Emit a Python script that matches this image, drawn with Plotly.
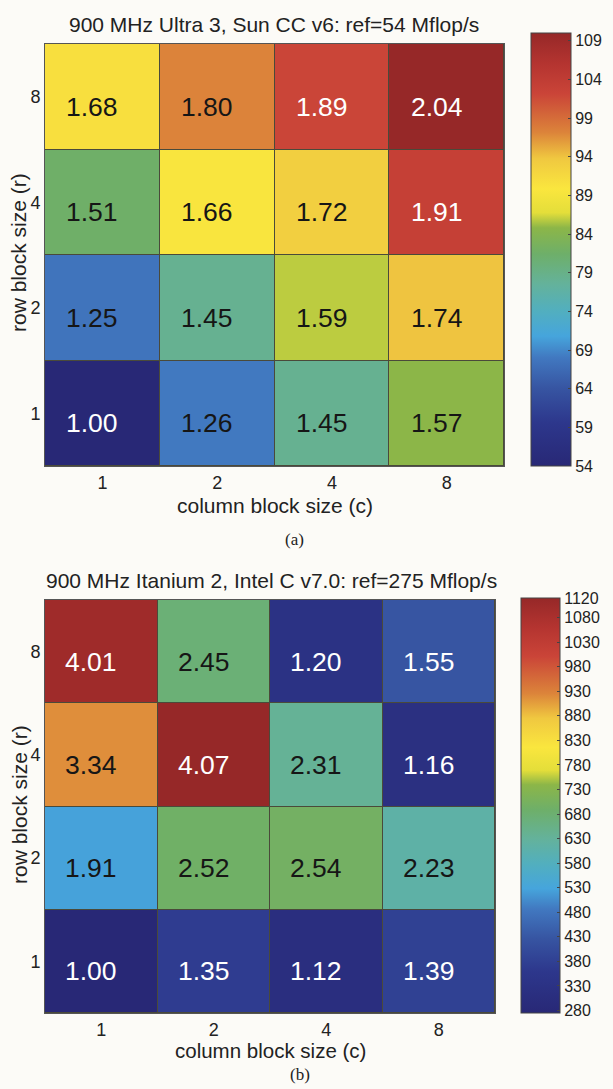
import plotly.graph_objects as go

# ---- data ----
col_labels = ["1", "2", "4", "8"]
row_labels = ["1", "2", "4", "8"]

# speedup ratios (rows: r = 1, 2, 4, 8 ; cols: c = 1, 2, 4, 8)
ultra_ratio = [
    [1.00, 1.26, 1.45, 1.57],
    [1.25, 1.45, 1.59, 1.74],
    [1.51, 1.66, 1.72, 1.91],
    [1.68, 1.80, 1.89, 2.04],
]
ultra_ref = 54
itanium_ratio = [
    [1.00, 1.35, 1.12, 1.39],
    [1.91, 2.52, 2.54, 2.23],
    [3.34, 4.07, 2.31, 1.16],
    [4.01, 2.45, 1.20, 1.55],
]
itanium_ref = 275

ultra_ticks = [54, 59, 64, 69, 74, 79, 84, 89, 94, 99, 104, 109]
itanium_ticks = [280, 330, 380, 430, 480, 530, 580, 630, 680, 730, 780, 830,
                 880, 930, 980, 1030, 1080, 1120]

title_a = "900 MHz Ultra 3, Sun CC v6: ref=54 Mflop/s"
title_b = "900 MHz Itanium 2, Intel C v7.0: ref=275 Mflop/s"

W, H = 613, 1089
FONT = "Liberation Sans, Arial, Helvetica, sans-serif"

cscale = [
    [0.00, "rgb(40,40,118)"],
    [0.10, "rgb(45,55,140)"],
    [0.18, "rgb(55,85,162)"],
    [0.25, "rgb(65,120,192)"],
    [0.30, "rgb(70,165,220)"],
    [0.36, "rgb(82,175,190)"],
    [0.42, "rgb(100,178,155)"],
    [0.49, "rgb(110,175,105)"],
    [0.55, "rgb(140,182,72)"],
    [0.585, "rgb(228,222,58)"],
    [0.64, "rgb(250,230,62)"],
    [0.71, "rgb(240,200,64)"],
    [0.77, "rgb(220,132,58)"],
    [0.86, "rgb(202,68,56)"],
    [0.93, "rgb(180,52,48)"],
    [1.00, "rgb(150,40,40)"],
]

def px_x(p):
    return p / W

def px_y(p):
    return 1 - p / H

fig = go.Figure()

panels = [
    dict(ratio=ultra_ratio, ref=ultra_ref, zmin=54, zmax=110, ticks=ultra_ticks,
         xa="x", ya="y", xd=[px_x(45), px_x(504)], yd=[px_y(466), px_y(44)],
         cbx=px_x(531), cby=px_y(466), cblen=(466 - 33) / H, cbth=40),
    dict(ratio=itanium_ratio, ref=itanium_ref, zmin=275, zmax=1120, ticks=itanium_ticks,
         xa="x2", ya="y2", xd=[px_x(45), px_x(495)], yd=[px_y(1013), px_y(600)],
         cbx=px_x(521), cby=px_y(1013), cblen=(1013 - 598) / H, cbth=39),
]

annotations = []
for i, p in enumerate(panels):
    z = [[v * p["ref"] for v in row] for row in p["ratio"]]
    fig.add_trace(go.Heatmap(
        z=z, x=col_labels, y=row_labels, xaxis=p["xa"], yaxis=p["ya"],
        zmin=p["zmin"], zmax=p["zmax"], colorscale=cscale,
        xgap=1, ygap=1, hoverinfo="skip",
        colorbar=dict(
            x=p["cbx"], xanchor="left", y=p["cby"], yanchor="bottom",
            len=p["cblen"], lenmode="fraction", thickness=p["cbth"],
            thicknessmode="pixels", outlinewidth=1, outlinecolor="#444",
            tickvals=p["ticks"], ticktext=[str(t) for t in p["ticks"]],
            ticks="inside", ticklen=3, tickcolor="#444",
            tickfont=dict(family=FONT, size=16, color="#222"),
            xpad=0, ypad=0,
        ),
    ))
    for r in range(len(row_labels)):
        for c in range(len(col_labels)):
            norm = (z[r][c] - p["zmin"]) / (p["zmax"] - p["zmin"])
            color = "white" if (norm < 0.22 or norm > 0.83) else "#161616"
            annotations.append(dict(
                x=c, y=r, xref=p["xa"], yref=p["ya"],
                text=f"{p['ratio'][r][c]:.2f}", showarrow=False,
                font=dict(family=FONT, size=26.5, color=color),
                xshift=-10, yshift=-10,
            ))

def add_text(text, x, y, size, angle=0, family=FONT):
    annotations.append(dict(
        x=px_x(x), y=px_y(y), xref="paper", yref="paper", text=text,
        showarrow=False, textangle=angle, xanchor="center", yanchor="middle",
        font=dict(family=family, size=size, color="#222"),
    ))

add_text(title_a, 274, 24, 21)
add_text("column block size (c)", 275, 505, 21)
add_text("(a)", 294, 539, 17, family="Liberation Serif, Times New Roman, serif")
add_text("row block size (r)", 19, 253, 21, angle=-90)

add_text(title_b, 271, 580, 21)
add_text("column block size (c)", 270, 1050, 20.5)
add_text("(b)", 300, 1074, 17, family="Liberation Serif, Times New Roman, serif")
add_text("row block size (r)", 19, 805, 21, angle=-90)

axis_common = dict(type="category", showgrid=False, zeroline=False,
                   showline=True, mirror=True, linecolor="#555", linewidth=1,
                   ticks="", range=[-0.5, 3.5], autorange=False,
                   tickfont=dict(family=FONT, size=18, color="#222"))

fig.update_layout(
    width=W, height=H, margin=dict(l=0, r=0, t=0, b=0),
    paper_bgcolor="#fcfbf7", plot_bgcolor="#4a4a3a",
    showlegend=False, annotations=annotations,
    xaxis=dict(domain=panels[0]["xd"], anchor="y", **axis_common),
    yaxis=dict(domain=panels[0]["yd"], anchor="x", **axis_common),
    xaxis2=dict(domain=panels[1]["xd"], anchor="y2", **axis_common),
    yaxis2=dict(domain=panels[1]["yd"], anchor="x2", **axis_common),
)

fig.write_html(
    "out.html",
    config={"displayModeBar": False},
    post_script="document.body.style.margin='0px';document.body.style.background='#fcfbf7';",
)
